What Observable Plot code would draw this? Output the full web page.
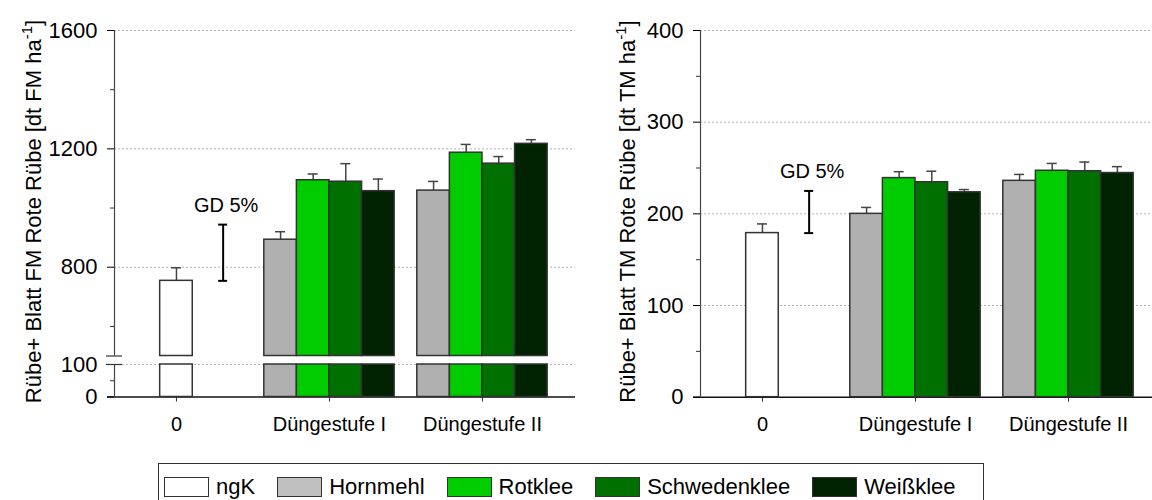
<!DOCTYPE html>
<html><head><meta charset="utf-8">
<script src="https://cdn.jsdelivr.net/npm/d3@7"></script>
<script src="https://cdn.jsdelivr.net/npm/@observablehq/plot@0.6"></script>
<style>
body{margin:0;background:#fff;font-family:"Liberation Sans",Arial,sans-serif;}
#charts{display:flex;width:1152px;height:440px;}
#legend{position:absolute;left:158px;top:463px;border:1px solid #333;display:flex;align-items:center;gap:22px;padding:10px 27px 10px 5px;font-size:22px;color:#000;}
.item{display:flex;align-items:center;gap:7px}
.sw{width:43px;height:18px;border:1px solid #333}
</style></head><body>
<div id="charts"></div><div id="legend"></div>
<script>
// ---- data ----
const groups = ["0", "Düngestufe I", "Düngestufe II"];
const series = ["ngK", "Hornmehl", "Rotklee", "Schwedenklee", "Weißklee"];
const barColors = ["#ffffff", "#b0b0b0", "#00cc00", "#007000", "#002200"];
const legendColors = ["#ffffff", "#c0c0c0", "#00cc00", "#007000", "#002200"];

// Frischmasse (FM)
const fmNgK = 754;
const fmNgKErr = 44;
const fmGD = 190;
const fmStufeI = [893, 1094, 1089, 1057];
const fmStufeIErr = [27, 21, 61, 41];
const fmStufeII = [1059, 1187, 1150, 1217];
const fmStufeIIErr = [31, 28, 24, 14];
const fmTicks = [0, 100, 800, 1200, 1600];
const fmMinorTicks = [50, 600, 1000, 1400];
const fmGrid = [100, 800, 1200, 1600];
const fmLabel = "Rübe+ Blatt FM Rote Rübe [dt FM ha";

// Trockenmasse (TM)
const tmNgK = 179;
const tmNgKErr = 10;
const tmGD = 46;
const tmStufeI = [200, 239, 234.5, 223.5];
const tmStufeIErr = [7, 7, 12, 3];
const tmStufeII = [236, 247, 246.5, 244.5];
const tmStufeIIErr = [7, 8, 10, 7];
const tmTicks = [0, 100, 200, 300, 400];
const tmMinorTicks = [50, 150, 250, 350];
const tmGrid = [100, 200, 300, 400];
const tmLabel = "Rübe+ Blatt TM Rote Rübe [dt TM ha";

// ---- layout ----
const BW = 0.213;      // bar width in group units
const GDX = 0.305;     // GD bar offset from group 0

function buildRows(ngK, ngKErr, s1, s1e, s2, s2e) {
  const out = [{g: 0, k: 0, value: ngK, err: ngKErr}];
  s1.forEach((v, i) => out.push({g: 1, k: i + 1, value: v, err: s1e[i]}));
  s2.forEach((v, i) => out.push({g: 2, k: i + 1, value: v, err: s2e[i]}));
  out.forEach(d => {
    d.xc = d.k === 0 ? d.g : d.g + (d.k - 2.5) * BW;
    d.x1 = d.xc - BW / 2;
    d.x2 = d.xc + BW / 2;
    d.top = d.value + d.err;
    d.color = barColors[d.k];
  });
  return out;
}

const fmRows = buildRows(fmNgK, fmNgKErr, fmStufeI, fmStufeIErr, fmStufeII, fmStufeIIErr);
const tmRows = buildRows(tmNgK, tmNgKErr, tmStufeI, tmStufeIErr, tmStufeII, tmStufeIIErr);

const font = {fontFamily: "'Liberation Sans', Arial, sans-serif", fontSize: "22px", color: "#000", background: "#fff", overflow: "visible"};

function commonMarks(rows, gdBase, gdLen) {
  const gd = [{x: GDX, y1: gdBase, y2: gdBase + gdLen}];
  return [
    Plot.ruleX(rows, {x: "xc", y1: "value", y2: "top", stroke: "#444", strokeWidth: 1.5}),
    Plot.ruleY(rows, {y: "top", x1: "xc", x2: "xc", insetLeft: -5, insetRight: -5, stroke: "#444", strokeWidth: 1.5}),
    Plot.ruleX(gd, {x: "x", y1: "y1", y2: "y2", stroke: "#000", strokeWidth: 2}),
    Plot.ruleY(gd, {y: "y1", x1: "x", x2: "x", insetLeft: -4.5, insetRight: -4.5, stroke: "#000", strokeWidth: 2}),
    Plot.ruleY(gd, {y: "y2", x1: "x", x2: "x", insetLeft: -4.5, insetRight: -4.5, stroke: "#000", strokeWidth: 2}),
    Plot.text(gd, {x: "x", y: "y2", text: () => "GD 5%", dy: -13, dx: 3, lineAnchor: "bottom", fontSize: 20, fill: "#000"}),
    Plot.axisX([0, 1, 2], {tickSize: 5, tickPadding: 15, tickFormat: i => groups[i], fontSize: 20, label: null, stroke: "#333"}),
    Plot.ruleY([0], {insetLeft: -7, stroke: "#111", strokeWidth: 1.5})
  ];
}

function addYLabel(svg, text, x) {
  const t = d3.select(svg).append("text")
    .attr("transform", `translate(${x},211.5) rotate(-90)`)
    .attr("text-anchor", "middle")
    .attr("font-size", 22)
    .attr("fill", "#000");
  t.append("tspan").text(text);
  t.append("tspan").attr("dy", -9).attr("font-size", 15).text("-1");
  t.append("tspan").attr("dy", 9).text("]");
}

const plain = d => String(d);

// ---- left panel (broken axis) ----
const xminL = -0.405;
const left = Plot.plot({
  width: 576, height: 440,
  marginLeft: 114, marginRight: 1, marginTop: 30, marginBottom: 43.5,
  style: font,
  x: {type: "linear", domain: [xminL, 2.608]},
  y: {type: "linear", domain: [0, 100, 500, 1600], range: [396.5, 364, 355.5, 30]},
  marks: [
    Plot.ruleY(fmGrid, {stroke: "#b4b4b4", strokeDasharray: "2,2"}),
    ...commonMarks(fmRows, fmNgK, fmGD),
    Plot.rect(fmRows, {x1: "x1", x2: "x2", y1: 0, y2: 100, fill: "color", stroke: "#333", strokeWidth: 1.5}),
    Plot.rect(fmRows, {x1: "x1", x2: "x2", y1: 500, y2: "value", fill: "color", stroke: "#333", strokeWidth: 1.5}),
    Plot.axisY(fmTicks, {tickSize: 7, tickPadding: 10, fontSize: 22, label: null, tickFormat: plain}),
    Plot.ruleY(fmMinorTicks, {x1: xminL, x2: xminL, insetLeft: -4, stroke: "#333"}),
    Plot.ruleX([xminL], {y1: 500, y2: 1600, stroke: "#444", strokeWidth: 1.2}),
    Plot.ruleX([xminL], {y1: 0, y2: 100, stroke: "#444", strokeWidth: 1.2}),
    Plot.ruleY([100, 500], {x1: xminL, x2: xminL, insetLeft: -8, insetRight: -8, stroke: "#333", strokeWidth: 1.2})
  ]
});
addYLabel(left, fmLabel, 41);

// ---- right panel ----
const xminR = -0.405;
const right = Plot.plot({
  width: 576, height: 440,
  marginLeft: 124, marginRight: 0, marginTop: 30, marginBottom: 43.3,
  style: font,
  x: {type: "linear", domain: [xminR, 2.549]},
  y: {type: "linear", domain: [0, 400]},
  marks: [
    Plot.ruleY(tmGrid, {stroke: "#b4b4b4", strokeDasharray: "2,2"}),
    ...commonMarks(tmRows, tmNgK, tmGD),
    Plot.rect(tmRows, {x1: "x1", x2: "x2", y1: 0, y2: "value", fill: "color", stroke: "#333", strokeWidth: 1.5}),
    Plot.axisY(tmTicks, {tickSize: 7, tickPadding: 10, fontSize: 22, label: null, tickFormat: plain}),
    Plot.ruleY(tmMinorTicks, {x1: xminR, x2: xminR, insetLeft: -4, stroke: "#333"}),
    Plot.ruleX([xminR], {y1: 0, y2: 400, stroke: "#444", strokeWidth: 1.2})
  ]
});
addYLabel(right, tmLabel, 59);

document.getElementById("charts").append(left, right);

// ---- legend ----
const legend = d3.select("#legend");
series.forEach((s, i) => {
  const it = legend.append("div").attr("class", "item");
  it.append("div").attr("class", "sw").style("background", legendColors[i]);
  it.append("span").text(s);
});
</script>
</body></html>
